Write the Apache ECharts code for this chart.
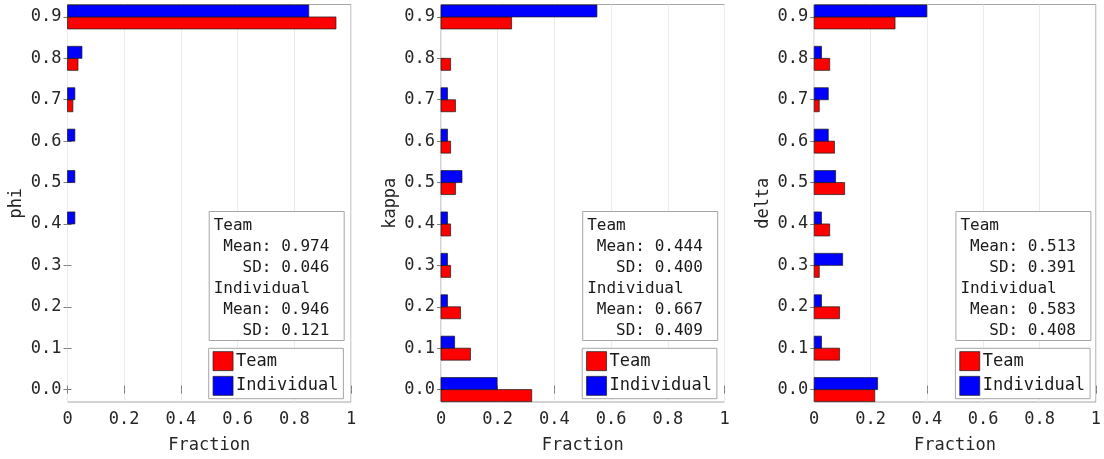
<!DOCTYPE html>
<html>
<head>
<meta charset="utf-8">
<script src="https://cdn.jsdelivr.net/npm/echarts@6/dist/echarts.min.js"></script>
<style>
  html, body { margin: 0; padding: 0; background: #ffffff; }
  #chart { width: 1104px; height: 459px; }
</style>
</head>
<body>
<div id="chart"></div>
<script>
// Bin centres shared by the three histograms
const bins = [0.0, 0.1, 0.2, 0.3, 0.4, 0.5, 0.6, 0.7, 0.8, 0.9];
const panelNames = ['phi', 'kappa', 'delta'];
const groupNames = ['Team', 'Individual'];

// Fraction of runs per bin
const phiTeam         = [0, 0, 0, 0, 0, 0, 0, 0.019, 0.037, 0.947];
const phiIndividual   = [0, 0, 0, 0, 0.026, 0.026, 0.026, 0.026, 0.051, 0.851];
const kappaTeam       = [0.320, 0.104, 0.069, 0.034, 0.034, 0.051, 0.034, 0.051, 0.034, 0.249];
const kappaIndividual = [0.198, 0.048, 0.023, 0.023, 0.023, 0.074, 0.023, 0.023, 0, 0.550];
const deltaTeam       = [0.215, 0.090, 0.090, 0.018, 0.055, 0.108, 0.072, 0.018, 0.055, 0.287];
const deltaIndividual = [0.225, 0.026, 0.026, 0.101, 0.026, 0.076, 0.050, 0.050, 0.026, 0.400];

// Summary statistics per panel (phi, kappa, delta)
const teamMean       = [0.974, 0.444, 0.513];
const teamSD         = [0.046, 0.400, 0.391];
const individualMean = [0.946, 0.667, 0.583];
const individualSD   = [0.121, 0.409, 0.408];

const panelValues = [
  [phiTeam, phiIndividual],
  [kappaTeam, kappaIndividual],
  [deltaTeam, deltaIndividual]
];

// Layout
const FONT = 'DejaVu Sans Mono';
const TEXT = '#262626';
const FRAME = '#a6a6a6';
const AXIS_FONT = 17;
const gridLefts = [67.5, 441, 814.2];
const gridWidth = 283.5;
const gridTop = 4.5;
const gridHeight = 399;
const yMin = -0.03, yMax = 0.93;
const halfBar = 0.029;
const colors = ['#ff0000', '#0000ff'];

const chart = echarts.init(document.getElementById('chart'), null, { renderer: 'canvas' });

const grid = [], xAxis = [], yAxis = [], series = [], title = [], legend = [];

panelNames.forEach((name, p) => {
  grid.push({
    left: gridLefts[p], top: gridTop, width: gridWidth, height: gridHeight,
    show: true, borderColor: FRAME, borderWidth: 1, backgroundColor: '#fff'
  });

  // bottom axis with labels and grid lines
  xAxis.push({
    gridIndex: p, type: 'value', min: 0, max: 1, interval: 0.2, position: 'bottom',
    name: 'Fraction', nameLocation: 'middle', nameGap: 35,
    nameTextStyle: { fontFamily: FONT, fontSize: AXIS_FONT, color: TEXT },
    axisLine: { show: false },
    axisTick: { show: true, inside: true, length: 4, lineStyle: { color: '#7f7f7f' } },
    axisLabel: { fontFamily: FONT, fontSize: AXIS_FONT, color: TEXT, margin: 9 },
    splitLine: { show: true, lineStyle: { color: '#ebebeb', width: 1 } }
  });
  // top axis: tick marks only
  xAxis.push({
    gridIndex: p, type: 'value', min: 0, max: 1, interval: 0.2, position: 'top',
    axisLine: { show: false },
    axisTick: { show: true, inside: true, length: 4, lineStyle: { color: '#7f7f7f' } },
    axisLabel: { show: false }, splitLine: { show: false }
  });

  // left axis with bin labels
  yAxis.push({
    gridIndex: p, type: 'value', min: yMin, max: yMax, position: 'left',
    name: name, nameLocation: 'middle', nameGap: 42, nameRotate: 90,
    nameTextStyle: { fontFamily: FONT, fontSize: AXIS_FONT, color: TEXT },
    axisLine: { show: false },
    axisTick: { show: true, inside: true, length: 4, customValues: bins, lineStyle: { color: '#7f7f7f' } },
    axisLabel: {
      fontFamily: FONT, fontSize: AXIS_FONT, color: TEXT, margin: 6,
      customValues: bins, formatter: v => v.toFixed(1)
    },
    splitLine: { show: false }
  });
  // right axis: tick marks only
  yAxis.push({
    gridIndex: p, type: 'value', min: yMin, max: yMax, position: 'right',
    axisLine: { show: false },
    axisTick: { show: true, inside: true, length: 4, customValues: bins, lineStyle: { color: '#7f7f7f' } },
    axisLabel: { show: false }, splitLine: { show: false }
  });

  // grouped horizontal bars: Team below the bin centre, Individual above it
  groupNames.forEach((g, k) => {
    const vals = panelValues[p][k];
    series.push({
      name: g,
      type: 'custom',
      xAxisIndex: p * 2,
      yAxisIndex: p * 2,
      itemStyle: { color: colors[k] },
      encode: { x: 0, y: 1 },
      data: bins.map((b, i) => [vals[i], b]),
      renderItem: function (params, api) {
        const v = api.value(0);
        const c = api.value(1);
        if (!v) return null;
        const p0 = api.coord([0, c]);
        const p1 = api.coord([v, c]);
        const h = api.size([0, halfBar])[1];
        const y = k === 1 ? p0[1] - h : p0[1];
        return {
          type: 'rect',
          shape: { x: p0[0], y: y, width: p1[0] - p0[0], height: h },
          style: api.style({ stroke: '#1a1a1a', lineWidth: 0.7 })
        };
      }
    });
  });

  const boxRight = gridLefts[p] + gridWidth - 6.8;
  const boxLeft = boxRight - 135.5;

  // statistics box
  const lines = [
    'Team',
    ' Mean: ' + teamMean[p].toFixed(3),
    '   SD: ' + teamSD[p].toFixed(3),
    'Individual',
    ' Mean: ' + individualMean[p].toFixed(3),
    '   SD: ' + individualSD[p].toFixed(3)
  ];
  title.push({
    text: lines.join('\n'),
    left: boxLeft, top: 211,
    padding: [4, 15, 0, 5],
    borderColor: FRAME, borderWidth: 1, backgroundColor: '#fff',
    textStyle: { fontFamily: FONT, fontSize: 16, fontWeight: 'normal', color: '#1a1a1a', lineHeight: 21 }
  });

  legend.push({
    left: boxLeft, top: 348.3, orient: 'vertical',
    itemWidth: 20, itemHeight: 19, itemGap: 5, itemSymbolKeepAspect: false,
    padding: [3, 5, 3, 4],
    borderColor: FRAME, borderWidth: 1, backgroundColor: '#fff',
    textStyle: { fontFamily: FONT, fontSize: AXIS_FONT, color: '#1a1a1a', padding: [0, 0, 0, -2] },
    selectedMode: false,
    data: groupNames.map((g, k) => ({
      name: g, icon: 'rect',
      itemStyle: { color: colors[k], borderColor: '#1a1a1a', borderWidth: 0.7 }
    }))
  });
});

chart.setOption({
  animation: false,
  backgroundColor: '#ffffff',
  grid, xAxis, yAxis, series, title, legend
});
</script>
</body>
</html>
